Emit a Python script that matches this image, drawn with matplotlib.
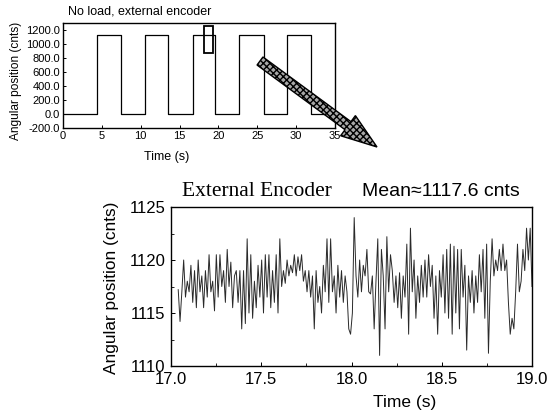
import numpy as np
import matplotlib
matplotlib.use("Agg")
import matplotlib.pyplot as plt
from matplotlib.patches import Rectangle, FancyArrow
from matplotlib.ticker import MultipleLocator, FormatStrFormatter

plt.rcParams['font.family'] = ['Liberation Sans', 'DejaVu Sans']

# ---- top plot data: square wave (edges in s, level in cnts) ----
edge_times = [0, 4.4, 7.5, 10.6, 13.5, 16.7, 19.6, 22.7, 25.8, 28.8, 31.9, 35]
edge_levels = [0, 1125, 0, 1125, 0, 1125, 0, 1125, 0, 1125, 0]
zoom_box_t = [18.1, 19.3]
zoom_box_y = [870, 1260]

# ---- bottom plot data: position readings 17.04 .. 19.0 s ----
pos = [
    1117.2, 1114.2, 1117.0, 1120.0, 1116.5, 1118.0, 1117.0, 1119.5,
    1116.0, 1119.0, 1115.5, 1120.0, 1117.0, 1118.5, 1115.5, 1119.0, 1116.5, 1120.5, 1117.0, 1118.0,
    1115.2, 1120.5, 1116.5, 1120.5, 1117.5, 1119.0, 1116.0, 1121.0, 1117.5, 1119.8, 1115.5,
    1118.5, 1119.0, 1116.0, 1119.0, 1113.5, 1119.0, 1114.0, 1122.0, 1115.0, 1120.5,
    1114.5, 1118.0, 1115.5, 1119.5, 1116.5, 1120.0, 1115.0, 1120.5, 1116.5, 1120.5,
    1115.5, 1119.0, 1116.0, 1120.5, 1115.0, 1122.0, 1117.5, 1119.0, 1117.8, 1120.0,
    1118.5, 1119.5, 1118.8, 1120.5, 1118.5, 1120.3, 1119.0, 1120.5, 1118.0, 1119.0,
    1117.0, 1119.0, 1116.5, 1118.5, 1113.5, 1119.0, 1116.0, 1117.5,
    1115.0, 1119.5, 1117.0, 1122.0, 1116.0, 1122.0, 1117.0, 1118.5, 1115.0, 1119.5,
    1116.5, 1119.0, 1116.0, 1118.5, 1117.0, 1113.5, 1113.0, 1115.0, 1124.0, 1118.5,
    1116.5, 1120.0, 1117.0, 1119.5, 1118.5, 1121.0, 1117.0, 1116.8, 1118.5, 1113.5, 1118.0,
    1122.0, 1111.0, 1121.0, 1118.5, 1113.5, 1122.2, 1117.0, 1120.5, 1119.0, 1116.0,
    1118.5, 1115.5, 1118.8, 1114.5, 1118.5, 1116.5, 1121.5, 1113.0, 1123.0,
    1117.0, 1120.0, 1114.5, 1118.5, 1116.0, 1119.5, 1116.5, 1120.0, 1116.5, 1120.5,
    1117.5, 1119.5, 1114.5, 1118.5, 1113.0, 1119.0, 1116.5, 1120.5, 1115.0, 1121.0,
    1114.5, 1121.5, 1113.0, 1121.3, 1115.0, 1121.0, 1113.5, 1121.0, 1116.5,
    1119.5, 1111.5, 1118.5, 1116.0, 1119.0, 1115.0, 1118.5, 1116.0,
    1120.5, 1117.0, 1121.0, 1114.5, 1121.5, 1111.2, 1118.0, 1122.0,
    1118.5, 1120.0, 1119.0, 1121.0, 1119.0, 1121.5, 1119.0, 1120.0, 1116.0, 1113.0,
    1114.5, 1113.5, 1117.0, 1121.5, 1117.0, 1118.0, 1121.0, 1119.0, 1123.0, 1120.0, 1123.0, 1117.5,
]
t_start, t_end = 17.04, 19.0
time = np.linspace(t_start, t_end, len(pos))

W, H = 558, 418
fig = plt.figure(figsize=(W / 100, H / 100), dpi=100)

def px_axes(l, t, r, b):
    return fig.add_axes([l / W, 1 - b / H, (r - l) / W, (b - t) / H])

# ---------- top plot ----------
ax1 = px_axes(63, 23, 335, 128)
step_t = np.repeat(edge_times, 2)[1:-1]
step_y = np.repeat(edge_levels, 2)
ax1.plot(step_t, step_y, color='black', lw=0.9)
ax1.add_patch(Rectangle((zoom_box_t[0], zoom_box_y[0]), zoom_box_t[1] - zoom_box_t[0],
                        zoom_box_y[1] - zoom_box_y[0], fill=False, lw=1.3, ec='black'))
ax1.set_xlim(0, 35)
ax1.set_ylim(-200, 1300)
ax1.xaxis.set_major_locator(MultipleLocator(5))
ax1.yaxis.set_major_locator(MultipleLocator(200))
ax1.yaxis.set_major_formatter(FormatStrFormatter('%.1f'))
ax1.tick_params(direction='in', length=2.5, width=0.7, labelsize=8, pad=2)
for s in ax1.spines.values():
    s.set_linewidth(1.0)
ax1.set_xlabel('Time (s)', fontsize=9)
ax1.xaxis.set_label_coords(0.38, -0.22)
ax1.set_ylabel('Angular position (cnts)', fontsize=8.6)
ax1.yaxis.set_label_coords(-0.15, 0.45)
fig.text(68 / W, 1 - 12 / H, 'No load, external encoder', fontsize=9, ha='left', va='center')

# ---------- bottom plot ----------
ax2 = px_axes(171, 207, 532, 366)
ax2.plot(time, pos, color='#2a2a2a', lw=0.7)
ax2.set_xlim(17.0, 19.0)
ax2.set_ylim(1110, 1125)
ax2.xaxis.set_major_locator(MultipleLocator(0.5))
ax2.xaxis.set_minor_locator(MultipleLocator(0.25))
ax2.yaxis.set_major_locator(MultipleLocator(5))
ax2.yaxis.set_minor_locator(MultipleLocator(2.5))
ax2.xaxis.set_major_formatter(FormatStrFormatter('%.1f'))
ax2.tick_params(which='major', direction='in', length=3, width=0.7, labelsize=12, pad=4)
ax2.tick_params(which='minor', direction='in', length=2, width=0.6)
for s in ax2.spines.values():
    s.set_linewidth(1.0)
ax2.set_xlabel('Time (s)', fontsize=12.5)
ax2.xaxis.set_label_coords(0.648, -0.18)
ax2.set_ylabel('Angular position (cnts)', fontsize=12.4)
ax2.yaxis.set_label_coords(-0.145, 0.49)
fig.text(182 / W, 1 - 192 / H, 'External Encoder', fontsize=15.5,
         family=['Liberation Serif', 'DejaVu Serif'], ha='left', va='center')
fig.text(362 / W, 1 - 191 / H, 'Mean\u22481117.6 cnts', fontsize=14, ha='left', va='center')

# ---------- arrow overlay ----------
ov = fig.add_axes([0, 0, 1, 1], zorder=5)
ov.set_xlim(0, W)
ov.set_ylim(H, 0)
ov.axis('off')
ov.patch.set_alpha(0)
arrow = FancyArrow(260, 61, 117, 86, width=10, head_width=25, head_length=36,
                   length_includes_head=True, facecolor='#a8a8a8', edgecolor='black',
                   lw=1.0, hatch='xxxxx')
ov.add_patch(arrow)

fig.savefig('out.png', dpi=100)
